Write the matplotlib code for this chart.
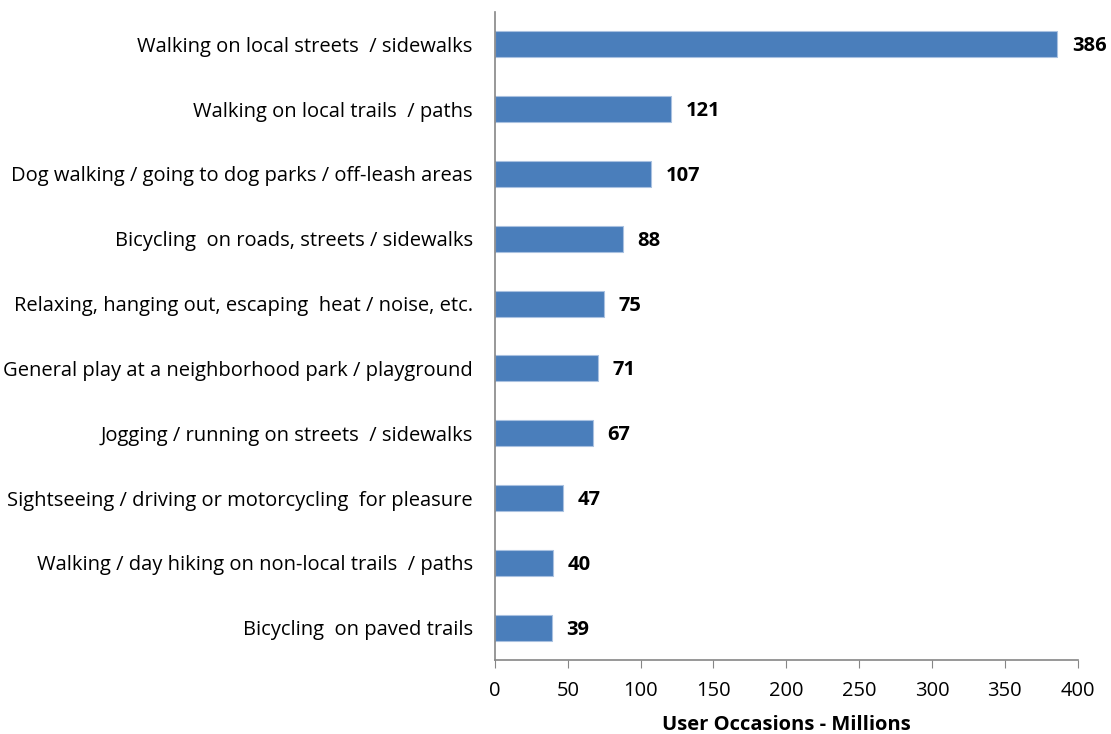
import matplotlib.pyplot as plt

activities = [
    "Walking on local streets  / sidewalks",
    "Walking on local trails  / paths",
    "Dog walking / going to dog parks / off-leash areas",
    "Bicycling  on roads, streets / sidewalks",
    "Relaxing, hanging out, escaping  heat / noise, etc.",
    "General play at a neighborhood park / playground",
    "Jogging / running on streets  / sidewalks",
    "Sightseeing / driving or motorcycling  for pleasure",
    "Walking / day hiking on non-local trails  / paths",
    "Bicycling  on paved trails",
]
occasions = [386, 121, 107, 88, 75, 71, 67, 47, 40, 39]

plt.rcParams['font.family'] = ['Open Sans', 'DejaVu Sans']

fig = plt.figure(figsize=(11.11, 7.34), dpi=100)
ax = fig.add_axes([0.4455, 0.1008, 0.5245, 0.8829])

pos = range(len(activities))
ax.barh(pos, occasions, height=0.4, color='#4a7ebb', edgecolor='#a9c1e0', linewidth=0.8)
for p, v in zip(pos, occasions):
    ax.text(v + 10, p + 0.03, str(v), va='center', ha='left', fontsize=14.5, fontweight='bold')

ax.set_ylim(len(activities) - 0.5, -0.5)
ax.set_xlim(0, 400)
ax.set_xticks(range(0, 401, 50))
ax.set_yticks(list(pos))
ax.set_yticklabels(activities, fontsize=14.5)
ax.tick_params(axis='y', length=0, pad=16)
ax.tick_params(axis='x', length=6, color='#868686', labelsize=14.5, pad=9)
for s in ['top', 'right']:
    ax.spines[s].set_visible(False)
for s in ['left', 'bottom']:
    ax.spines[s].set_color('#868686')
    ax.spines[s].set_linewidth(1.2)
ax.set_xlabel('User Occasions - Millions', fontsize=14.5, fontweight='bold', labelpad=10)

fig.savefig('out.png', dpi=100)
